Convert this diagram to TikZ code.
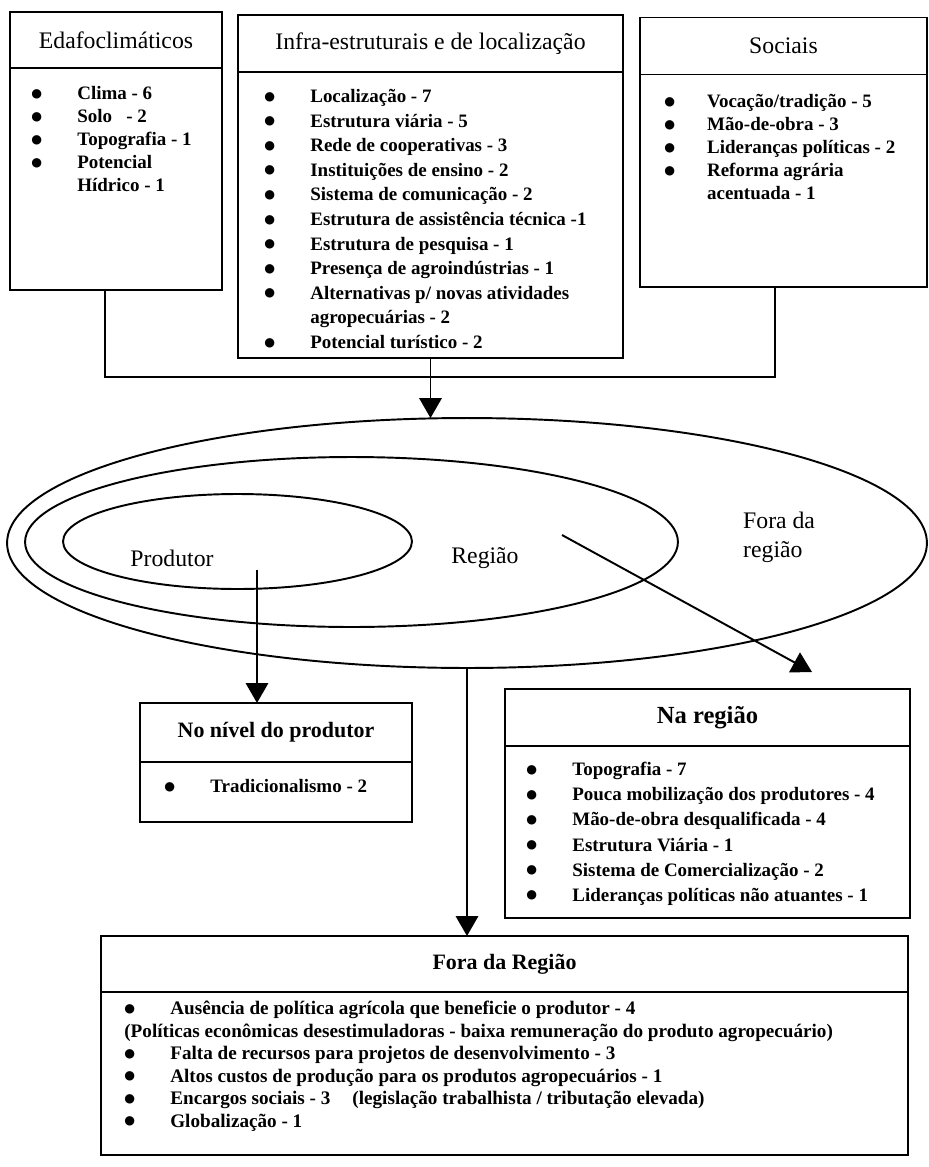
\documentclass[tikz,border=0pt]{standalone}
\usepackage{fontspec}
\setmainfont{Liberation Serif}
\newfontfamily\simb{DejaVu Sans}
\usepackage{tikz}
\usetikzlibrary{arrows.meta,positioning,shapes.geometric}
\newcommand{\bu}[1][0.92cm]{\makebox[#1][l]{\raisebox{1.4pt}{\simb\fontsize{7}{8}\selectfont ●}}}
\newcommand{\rec}[1][0.92cm]{\hspace*{#1}}
\tikzset{
  cab/.style={draw,line width=1.1pt,inner sep=0pt,outer sep=0pt,font=\fontsize{13.5}{16}\selectfont},
  corpo/.style={draw,line width=1.1pt,inner sep=0pt,outer sep=0pt},
  lista/.style={align=left,inner sep=0pt,anchor=north west,font=\fontsize{10.8}{13.1}\selectfont\bfseries},
  anel/.style={ellipse,draw,line width=1.1pt,inner sep=0pt,outer sep=0pt},
  rot/.style={font=\fontsize{13.5}{16.5}\selectfont,align=left},
  seta/.style={line width=1.1pt,-{Triangle[length=0.4cm,width=0.45cm]}},
  lig/.style={line width=1.1pt},
}

\begin{document}
\begin{tikzpicture}[x=0.02cm,y=-0.02cm]
  \useasboundingbox (0,0) rectangle (929,1167);
  % fatores favoraveis
  \node[cab,minimum width=4.24cm,minimum height=1.12cm] (edafoT) at (116,40) {Edafoclimáticos};
  \node[corpo,minimum width=4.24cm,minimum height=4.44cm,below=0pt of edafoT] (edafoB) {};
  \node[lista] (edafoL) at (31,86)
    {\bu Clima - 6\\ \bu Solo \ \ - 2\\ \bu Topografia - 1\\ \bu Potencial\\ \rec Hídrico - 1};
  \node[cab,minimum width=7.7cm,minimum height=1.14cm] (infraT) at (430.5,43.5) {Infra-estruturais e de localização};
  \node[corpo,minimum width=7.7cm,minimum height=5.72cm,below=0pt of infraT] (infraB) {};
  \node[lista,font=\fontsize{10.8}{14}\selectfont\bfseries] (infraL) at (264,89)
    {\bu Localização - 7\\ \bu Estrutura viária - 5\\ \bu Rede de cooperativas - 3\\
     \bu Instituições de ensino - 2\\ \bu Sistema de comunicação - 2\\
     \bu Estrutura de assistência técnica -1\\ \bu Estrutura de pesquisa - 1\\
     \bu Presença de agroindústrias - 1\\ \bu Alternativas p/ novas atividades\\
     \rec agropecuárias - 2\\ \bu Potencial turístico - 2};
  \node[cab,minimum width=5.74cm,minimum height=1.14cm] (socT) at (783.5,46) {Sociais};
  \node[corpo,minimum width=5.74cm,minimum height=4.26cm,below=0pt of socT] (socB) {};
  \node[lista] (socL) at (664,94)
    {\bu[0.76cm] Vocação/tradição - 5\\ \bu[0.76cm] Mão-de-obra - 3\\
     \bu[0.76cm] Lideranças políticas - 2\\ \bu[0.76cm] Reforma agrária\\ \rec[0.76cm] acentuada - 1};
  \coordinate (barra) at (430,377);
  \draw[lig] ([xshift=-0.22cm]edafoB.south) |- (barra) -| ([xshift=-0.17cm]socB.south);

  % aneis
  \node[anel,minimum width=18.4cm,minimum height=5cm] (anel3) at (467,543) {};
  \node[anel,minimum width=13.06cm,minimum height=3.4cm] (anel2) at (351.5,542) {};
  \node[anel,minimum width=6.98cm,minimum height=1.9cm] (anel1) at (237.5,541.5) {};
  \node[rot] (prod) at (172,558) {Produtor};
  \node[rot] (reg) at (485,558) {Região};
  \node[rot,anchor=west] (fora) at (737,537) {Fora da\\região};
  \draw[seta] (infraB.south) -- (infraB.south |- anel3.north);

  % fatores desfavoraveis
  \node[cab,font=\fontsize{12.5}{15}\selectfont\bfseries,minimum width=5.44cm,minimum height=1.18cm] (nivelT) at (276,732.5) {No nível do produtor};
  \node[corpo,minimum width=5.44cm,minimum height=1.2cm,below=0pt of nivelT] (nivelB) {};
  \node[lista] (nivelL) at (164,779) {\bu Tradicionalismo - 2};
  \node[cab,font=\fontsize{14}{16}\selectfont\bfseries,minimum width=8.1cm,minimum height=1.14cm] (naT) at (707.5,717.5) {Na região};
  \node[corpo,minimum width=8.1cm,minimum height=3.44cm,below=0pt of naT] (naB) {};
  \node[lista,font=\fontsize{10.8}{14.3}\selectfont\bfseries] (naL) at (526,762)
    {\bu Topografia - 7\\ \bu Pouca mobilização dos produtores - 4\\
     \bu Mão-de-obra desqualificada - 4\\ \bu Estrutura Viária - 1\\
     \bu Sistema de Comercialização - 2\\ \bu Lideranças políticas não atuantes - 1};
  \node[cab,font=\fontsize{12.5}{15}\selectfont\bfseries,minimum width=16.14cm,minimum height=1.12cm] (foraT) at (504.5,964) {Fora da Região};
  \node[corpo,minimum width=16.14cm,minimum height=3.26cm,below=0pt of foraT] (foraB) {};
  \node[lista,font=\fontsize{10.9}{12.8}\selectfont\bfseries] (foraL) at (124,1001)
    {\bu Ausência de política agrícola que beneficie o produtor - 4\\
     (Políticas econômicas desestimuladoras - baixa remuneração do produto agropecuário)\\
     \bu Falta de recursos para projetos de desenvolvimento - 3\\
     \bu Altos custos de produção para os produtos agropecuários - 1\\
     \bu Encargos sociais - 3\hspace{0.44cm}(legislação trabalhista / tributação elevada)\\
     \bu Globalização - 1};

  \coordinate (p0) at (257,570);
  \coordinate (r0) at (562,535);
  \coordinate (r1) at (812,672);
  \draw[seta] (p0) -- (p0 |- nivelT.north);
  \draw[seta] (r0) -- (r1);
  \draw[seta] (anel3.south) -- (anel3.south |- foraT.north);
\end{tikzpicture}
\end{document}
